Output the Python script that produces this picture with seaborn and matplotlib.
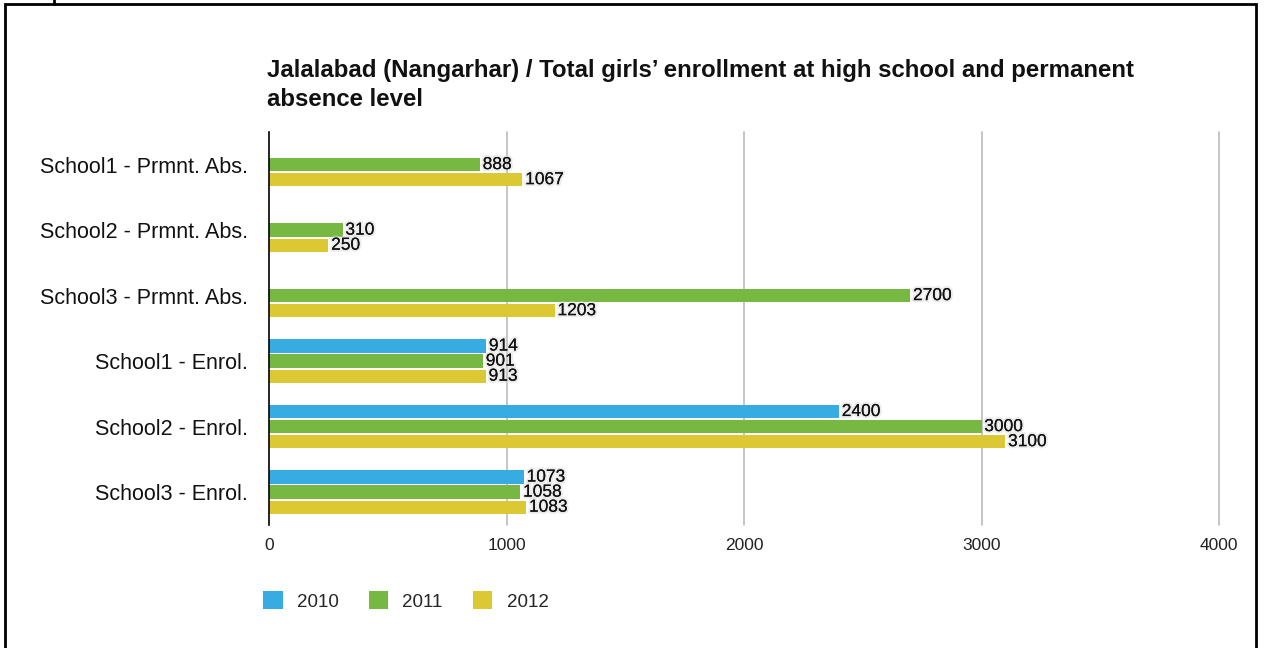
import numpy as np
import pandas as pd
import seaborn as sns
import matplotlib
matplotlib.use("Agg")
import matplotlib.pyplot as plt
from matplotlib.patches import Rectangle
from matplotlib.lines import Line2D
import matplotlib.patheffects as pe

categories = ["School1 - Prmnt. Abs.", "School2 - Prmnt. Abs.", "School3 - Prmnt. Abs.",
              "School1 - Enrol.", "School2 - Enrol.", "School3 - Enrol."]
years = ["2010", "2011", "2012"]
vals_2010 = [np.nan, np.nan, np.nan, 914, 2400, 1073]
vals_2011 = [888, 310, 2700, 901, 3000, 1058]
vals_2012 = [1067, 250, 1203, 913, 3100, 1083]
colors = ["#36ACE2", "#77B843", "#DCC833"]
title = "Jalalabad (Nangarhar) / Total girls\u2019 enrollment at high school and permanent\nabsence level"

rows = []
for y, vals in zip(years, [vals_2010, vals_2011, vals_2012]):
    for c, v in zip(categories, vals):
        rows.append({"cat": c, "year": y, "value": v})
df = pd.DataFrame(rows)

sns.set_theme(style="white")
plt.rcParams['font.family'] = ['Liberation Sans', 'DejaVu Sans']

fig = plt.figure(figsize=(12.64, 6.48), dpi=100)
ax = fig.add_axes([269/1264, 1-525/648, (1219-269)/1264, (525-132)/648])

sns.barplot(data=df, y="cat", x="value", hue="year", hue_order=years, order=categories,
            palette=colors, orient="h", width=0.69, saturation=1, ax=ax,
            errorbar=None, legend=False)

ax.set_xlim(0, 4000)
ax.set_ylim(5.5, -0.5)
ax.set_xticks([0, 1000, 2000, 3000, 4000])
ax.set_xticklabels(["0", "1000", "2000", "3000", "4000"], fontsize=12.5, color="#222222")
ax.tick_params(axis="x", length=0, pad=9)
ax.tick_params(axis="y", length=0, pad=15, labelsize=15.5)
for lab in ax.get_yticklabels():
    lab.set_color("#111111")
ax.set_xlabel("")
ax.set_ylabel("")
for x in [1000, 2000, 3000, 4000]:
    ax.axvline(x, color="#bbbbbb", lw=1.2, zorder=0, clip_on=False)
for s in ["top", "right", "bottom"]:
    ax.spines[s].set_visible(False)
ax.spines["left"].set_color("black")
ax.spines["left"].set_linewidth(1.2)

for patch in ax.patches:
    patch.set_edgecolor("none")
    h = patch.get_height()
    y0 = patch.get_y()
    patch.set_y(y0 + h * 0.05)
    patch.set_height(h * 0.88)

for cont in ax.containers:
    texts = ax.bar_label(cont, padding=2, fontsize=12.5, color="#111111")
    for t in texts:
        t.set_path_effects([pe.withStroke(linewidth=3, foreground="#d8d8d8", alpha=0.5), pe.Normal()])

fig.text(267/1264, 1-59/648, title, fontsize=17.3, fontweight="bold", ha="left", va="top",
         color="#111111", linespacing=1.33)

handles = [Rectangle((0, 0), 1, 1, facecolor=c, edgecolor="none") for c in colors]
fig.legend(handles, years, loc="center left", bbox_to_anchor=(263/1264, 1-601/648),
           ncol=3, frameon=False, fontsize=13.5, handlelength=1.05, handleheight=1.05,
           columnspacing=1.6, handletextpad=0.75, borderaxespad=0, borderpad=0)

fig.patches.append(Rectangle((5/1264, -0.05), (1256-5)/1264, 1.05 - 4/648, transform=fig.transFigure,
                             fill=False, edgecolor="black", lw=2, zorder=10))
fig.lines.append(Line2D([54/1264, 54/1264], [1, 1-4/648], transform=fig.transFigure, color="black", lw=2))

fig.savefig("out.png", dpi=100)
